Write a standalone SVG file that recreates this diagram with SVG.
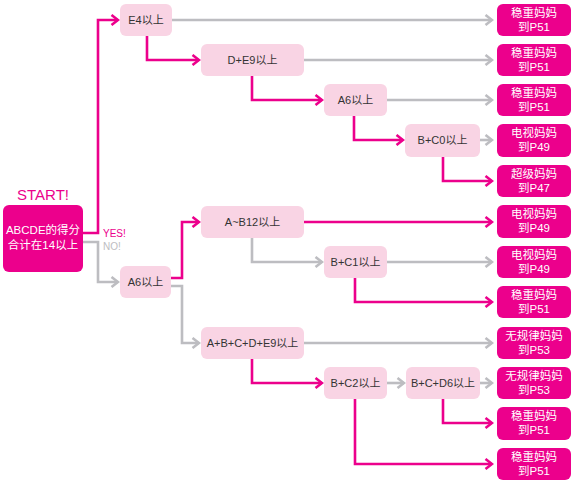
<svg xmlns="http://www.w3.org/2000/svg" width="575" height="483" viewBox="0 0 575 483">
<style>
.n rect{fill:#f9d4e4;}
.n text{fill:#333;font-size:11px;}
.r rect{fill:#ec008c;}
.r text{fill:#fff;font-size:11.5px;}
text{font-family:"Liberation Sans","Noto Sans CJK SC",sans-serif;text-anchor:middle;}
.m{fill:none;stroke:#ec008c;stroke-width:2.6;marker-end:url(#am);}
.g{fill:none;stroke:#bdbdc1;stroke-width:2.6;marker-end:url(#ag);}
.m0{fill:none;stroke:#ec008c;stroke-width:2.6;}
.g0{fill:none;stroke:#bdbdc1;stroke-width:2.6;}
</style>
<defs>
<marker id="am" markerUnits="userSpaceOnUse" viewBox="0 0 10 12" refX="8.5" refY="6" markerWidth="10" markerHeight="12" orient="auto"><path d="M2,1 L8.5,6 L2,11" fill="none" stroke="#ec008c" stroke-width="2.6"/></marker>
<marker id="ag" markerUnits="userSpaceOnUse" viewBox="0 0 10 12" refX="8.5" refY="6" markerWidth="10" markerHeight="12" orient="auto"><path d="M2,1 L8.5,6 L2,11" fill="none" stroke="#bdbdc1" stroke-width="2.6"/></marker>
</defs>
<rect width="575" height="483" fill="#fff"/>
<g id="connectors">
<polyline class="m" points="83,233 98,233 98,20 118,20"/>
<polyline class="g" points="83,242 98,242 98,282 118,282"/>
<line class="g" x1="172" y1="20" x2="492" y2="20"/>
<polyline class="m" points="147,36 147,60 199,60"/>
<line class="g" x1="304" y1="60" x2="492" y2="60"/>
<polyline class="m" points="252,76 252,100 322,100"/>
<line class="g" x1="387" y1="100" x2="492" y2="100"/>
<polyline class="m" points="354,116 354,140 403,140"/>
<line class="g" x1="480" y1="140" x2="492" y2="140"/>
<polyline class="m" points="443,157 443,181 492,181"/>
<polyline class="m" points="171,278 182,278 182,222 199,222"/>
<polyline class="g" points="171,286 182,286 182,343 199,343"/>
<line class="m" x1="304" y1="222" x2="492" y2="222"/>
<polyline class="g" points="252,238 252,262 322,262"/>
<line class="g" x1="387" y1="262" x2="492" y2="262"/>
<polyline class="m" points="355,278 355,302 492,302"/>
<line class="g" x1="304" y1="343" x2="492" y2="343"/>
<polyline class="m" points="252,359 252,383 322,383"/>
<line class="g" x1="387" y1="383" x2="404" y2="383"/>
<line class="g" x1="480" y1="383" x2="492" y2="383"/>
<polyline class="m" points="443,399 443,423 492,423"/>
<polyline class="m" points="355,399 355,464 492,464"/>
</g>
<text x="43" y="200" fill="#ec008c" style="font-size:15px;">START!</text>
<text x="103" y="237" fill="#ec008c" style="font-size:10px;text-anchor:start;">YES!</text>
<text x="103" y="250" fill="#bdbdc1" style="font-size:10px;text-anchor:start;">NO!</text>
<g id="start" class="r"><rect x="3" y="205" width="80" height="67" rx="6"/><text x="43" y="234">ABCDE的得分</text><text x="43" y="249">合计在14以上</text></g>
<g id="n1" class="n"><rect x="120" y="4" width="52" height="32" rx="6"/><text x="146" y="24">E4以上</text></g>
<g id="n2" class="n"><rect x="201" y="44" width="103" height="32" rx="6"/><text x="252.5" y="64">D+E9以上</text></g>
<g id="n3" class="n"><rect x="324" y="84" width="63" height="32" rx="6"/><text x="355.5" y="104">A6以上</text></g>
<g id="n4" class="n"><rect x="405" y="124" width="75" height="33" rx="6"/><text x="442.5" y="144">B+C0以上</text></g>
<g id="n5" class="n"><rect x="120" y="266" width="51" height="32" rx="6"/><text x="145.5" y="286">A6以上</text></g>
<g id="n6" class="n"><rect x="201" y="206" width="103" height="32" rx="6"/><text x="252.5" y="226">A~B12以上</text></g>
<g id="n7" class="n"><rect x="324" y="246" width="63" height="32" rx="6"/><text x="355.5" y="266">B+C1以上</text></g>
<g id="n8" class="n"><rect x="201" y="327" width="103" height="32" rx="6"/><text x="252.5" y="347">A+B+C+D+E9以上</text></g>
<g id="n9" class="n"><rect x="324" y="367" width="63" height="32" rx="6"/><text x="355.5" y="387">B+C2以上</text></g>
<g id="n10" class="n"><rect x="406" y="367" width="74" height="32" rx="6"/><text x="443" y="387">B+C+D6以上</text></g>
<g id="r1" class="r"><rect x="497" y="4" width="74" height="32" rx="6"/><text x="534" y="17">稳重妈妈</text><text x="534" y="31">到P51</text></g>
<g id="r2" class="r"><rect x="497" y="44" width="74" height="32" rx="6"/><text x="534" y="57">稳重妈妈</text><text x="534" y="71">到P51</text></g>
<g id="r3" class="r"><rect x="497" y="84" width="74" height="32" rx="6"/><text x="534" y="97">稳重妈妈</text><text x="534" y="111">到P51</text></g>
<g id="r4" class="r"><rect x="497" y="124" width="74" height="33" rx="6"/><text x="534" y="137">电视妈妈</text><text x="534" y="151">到P49</text></g>
<g id="r5" class="r"><rect x="497" y="165" width="74" height="32" rx="6"/><text x="534" y="178">超级妈妈</text><text x="534" y="192">到P47</text></g>
<g id="r6" class="r"><rect x="497" y="205" width="74" height="33" rx="6"/><text x="534" y="218">电视妈妈</text><text x="534" y="232">到P49</text></g>
<g id="r7" class="r"><rect x="497" y="246" width="74" height="32" rx="6"/><text x="534" y="259">电视妈妈</text><text x="534" y="273">到P49</text></g>
<g id="r8" class="r"><rect x="497" y="286" width="74" height="32" rx="6"/><text x="534" y="299">稳重妈妈</text><text x="534" y="313">到P51</text></g>
<g id="r9" class="r"><rect x="497" y="327" width="74" height="32" rx="6"/><text x="534" y="340">无规律妈妈</text><text x="534" y="354">到P53</text></g>
<g id="r10" class="r"><rect x="497" y="367" width="74" height="32" rx="6"/><text x="534" y="380">无规律妈妈</text><text x="534" y="394">到P53</text></g>
<g id="r11" class="r"><rect x="497" y="407" width="74" height="33" rx="6"/><text x="534" y="420">稳重妈妈</text><text x="534" y="434">到P51</text></g>
<g id="r12" class="r"><rect x="497" y="448" width="74" height="32" rx="6"/><text x="534" y="461">稳重妈妈</text><text x="534" y="475">到P51</text></g>
</svg>
